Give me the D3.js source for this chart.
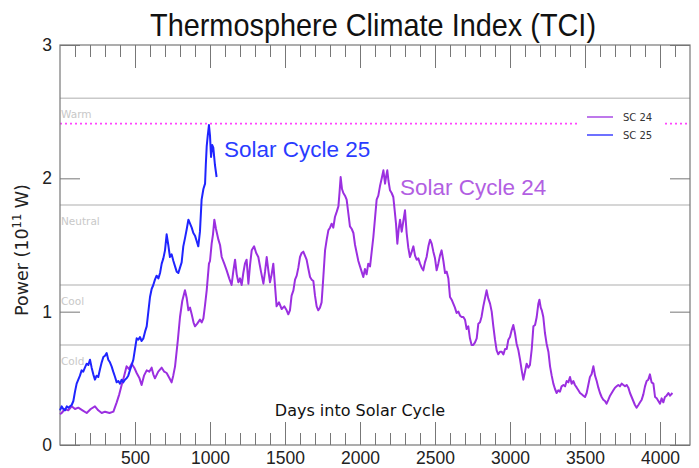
<!DOCTYPE html>
<html><head><meta charset="utf-8">
<script src="https://cdn.jsdelivr.net/npm/d3@7"></script>
<style>body{margin:0;background:#fff}svg{display:block}</style>
</head><body><svg id="c" width="699" height="468"></svg>
<script>
const sc24Days = [0,11,33,55,78,100,122,150,178,205,233,255,278,300,330,356,378,395,411,428,444,460,478,495,511,530,544,560,578,595,611,622,633,655,678,695,711,730,744,755,767,785,800,815,833,845,856,867,878,890,900,915,933,945,956,967,978,993,1000,1011,1020,1029,1040,1056,1067,1078,1095,1111,1128,1144,1155,1167,1178,1189,1200,1211,1222,1233,1244,1256,1267,1278,1294,1308,1322,1340,1356,1367,1378,1390,1400,1411,1422,1433,1444,1460,1478,1495,1511,1522,1533,1544,1556,1567,1578,1589,1600,1611,1622,1633,1644,1656,1667,1678,1689,1700,1711,1722,1733,1744,1755,1767,1778,1789,1800,1811,1822,1833,1845,1856,1864,1871,1880,1889,1900,1911,1922,1933,1945,1956,1967,1978,1989,2000,2011,2022,2033,2044,2055,2067,2078,2089,2100,2111,2122,2133,2145,2156,2167,2175,2182,2190,2200,2211,2222,2232,2240,2249,2258,2267,2278,2289,2300,2311,2322,2333,2345,2356,2367,2378,2389,2400,2411,2422,2433,2444,2456,2467,2478,2489,2500,2511,2522,2533,2544,2556,2567,2578,2589,2600,2611,2622,2633,2644,2656,2667,2678,2689,2700,2711,2722,2733,2744,2755,2767,2778,2789,2800,2810,2822,2833,2844,2855,2867,2878,2889,2900,2911,2922,2933,2944,2956,2967,2978,2989,3000,3011,3022,3033,3044,3056,3067,3078,3089,3100,3111,3122,3133,3145,3156,3167,3178,3189,3196,3205,3212,3222,3233,3244,3256,3267,3278,3289,3300,3311,3322,3333,3344,3356,3367,3378,3389,3400,3411,3422,3433,3445,3456,3467,3478,3489,3500,3511,3522,3533,3544,3556,3567,3578,3589,3600,3611,3622,3633,3644,3656,3667,3678,3689,3700,3711,3722,3733,3744,3756,3767,3778,3789,3800,3811,3822,3833,3844,3856,3867,3878,3889,3900,3911,3922,3933,3944,3956,3967,3978,3989,4000,4011,4022,4033,4044,4056,4067,4083];
const sc24Power = [0.23,0.24,0.27,0.26,0.29,0.27,0.28,0.26,0.24,0.27,0.29,0.26,0.24,0.25,0.24,0.25,0.32,0.38,0.45,0.52,0.59,0.57,0.61,0.58,0.54,0.50,0.45,0.52,0.56,0.55,0.58,0.53,0.50,0.55,0.58,0.55,0.54,0.50,0.47,0.52,0.59,0.78,0.96,1.08,1.16,1.10,1.01,1.03,0.98,0.92,0.89,0.91,0.94,0.92,0.95,1.05,1.16,1.36,1.38,1.51,1.58,1.69,1.62,1.54,1.50,1.41,1.36,1.31,1.25,1.20,1.30,1.39,1.28,1.22,1.25,1.20,1.29,1.36,1.39,1.21,1.35,1.46,1.49,1.44,1.41,1.30,1.21,1.30,1.41,1.30,1.22,1.28,1.36,1.20,1.04,1.07,1.02,1.04,1.01,0.98,1.01,1.12,1.16,1.24,1.27,1.33,1.41,1.44,1.45,1.42,1.39,1.32,1.26,1.24,1.23,1.12,1.04,1.01,1.03,1.07,1.25,1.46,1.54,1.61,1.63,1.66,1.63,1.71,1.75,1.79,1.90,2.01,1.92,1.89,1.87,1.84,1.74,1.64,1.62,1.59,1.50,1.44,1.38,1.34,1.30,1.26,1.32,1.28,1.36,1.34,1.45,1.56,1.70,1.84,1.87,1.94,2.00,2.06,1.96,2.02,2.06,1.98,1.91,1.89,1.86,1.75,1.66,1.51,1.62,1.69,1.60,1.68,1.76,1.59,1.48,1.41,1.45,1.49,1.42,1.39,1.40,1.36,1.33,1.31,1.37,1.41,1.49,1.54,1.51,1.45,1.40,1.31,1.36,1.42,1.46,1.38,1.29,1.30,1.25,1.11,1.09,1.06,1.03,0.99,1.00,0.97,0.96,0.96,0.94,0.87,0.89,0.80,0.75,0.75,0.77,0.80,0.91,0.92,0.96,1.04,1.10,1.16,1.10,1.06,1.00,0.89,0.79,0.71,0.68,0.70,0.70,0.68,0.72,0.72,0.79,0.81,0.86,0.90,0.84,0.76,0.71,0.64,0.56,0.49,0.55,0.61,0.58,0.60,0.72,0.89,0.90,0.96,1.06,1.09,1.03,1.01,0.96,0.84,0.76,0.70,0.59,0.52,0.46,0.42,0.39,0.41,0.40,0.44,0.45,0.44,0.48,0.47,0.51,0.46,0.48,0.45,0.43,0.41,0.39,0.38,0.37,0.36,0.39,0.45,0.51,0.53,0.59,0.52,0.48,0.43,0.39,0.36,0.34,0.33,0.31,0.34,0.37,0.39,0.41,0.43,0.44,0.45,0.44,0.46,0.45,0.44,0.45,0.43,0.39,0.36,0.33,0.30,0.28,0.30,0.32,0.34,0.38,0.44,0.48,0.49,0.53,0.47,0.46,0.36,0.35,0.33,0.31,0.35,0.32,0.36,0.37,0.39,0.37,0.39];
const sc25Days = [0,11,22,33,45,56,67,78,89,100,111,122,133,144,155,166,178,189,200,211,222,233,244,255,267,278,289,300,311,322,333,344,355,367,378,389,400,411,422,433,444,455,466,478,489,500,511,522,533,544,556,567,578,589,600,611,622,633,644,656,667,678,689,700,711,722,733,744,756,767,778,789,800,811,822,833,845,856,867,878,889,900,911,922,933,944,956,967,972,978,985,993,1000,1007,1015,1022,1033,1044];
const sc25Power = [0.26,0.29,0.27,0.26,0.29,0.28,0.29,0.30,0.33,0.40,0.46,0.49,0.52,0.56,0.55,0.58,0.61,0.60,0.64,0.58,0.53,0.49,0.52,0.51,0.57,0.62,0.66,0.67,0.69,0.64,0.62,0.59,0.55,0.51,0.47,0.48,0.46,0.49,0.47,0.49,0.50,0.52,0.56,0.60,0.64,0.72,0.80,0.79,0.81,0.78,0.80,0.85,0.89,1.00,1.11,1.17,1.20,1.24,1.27,1.25,1.29,1.36,1.40,1.46,1.58,1.50,1.41,1.43,1.38,1.34,1.30,1.29,1.33,1.37,1.49,1.55,1.62,1.69,1.66,1.63,1.59,1.57,1.53,1.49,1.60,1.84,1.92,1.96,2.10,2.24,2.32,2.40,2.32,2.16,2.25,2.23,2.10,2.01];
const thresholdValues = [2.6, 1.8, 1.2, 0.75];
const thresholdLabels = ["Warm", "Neutral", "Cool", "Cold"];
const warmLevel = 2.41;
const xMajorTicks = [500,1000,1500,2000,2500,3000,3500,4000];
const yTicks = [0,1,2,3];
const seriesNames = ["SC 24", "SC 25"];
const annotations = ["Solar Cycle 25", "Solar Cycle 24"];

const svg = d3.select("#c");
const L = 60, R = 690, T = 45, B = 445;
const x = d3.scaleLinear().domain([0, 4200]).range([L, R]);
const y = d3.scaleLinear().domain([0, 3]).range([B, T]);
const C24 = "#9b2fe0", C25 = "#1f24ff";

// threshold lines
svg.selectAll("line.thr").data(thresholdValues).join("line")
  .attr("x1", L).attr("x2", R).attr("y1", d => y(d)).attr("y2", d => y(d))
  .attr("stroke", "#c9c9c9").attr("stroke-width", 1.5);
svg.selectAll("text.thr").data(thresholdValues).join("text")
  .attr("x", L + 1).attr("y", d => y(d) + 20)
  .attr("font-family", "DejaVu Sans").attr("font-size", 10.5).attr("fill", "#c8c8c8")
  .text((d, i) => thresholdLabels[i]);

// warm dotted line
svg.append("line").attr("x1", L).attr("x2", R).attr("y1", y(warmLevel)).attr("y2", y(warmLevel))
  .attr("stroke", "#ff44ff").attr("stroke-width", 1.6).attr("stroke-dasharray", "2,3");

// axes with inward ticks
const minor = d3.range(100, 4200, 100).filter(v => v % 500 !== 0);
const axisStyle = g => { g.select(".domain").remove(); g.selectAll(".tick line").attr("stroke", "#777"); };
svg.append("g").attr("transform", `translate(0,${B})`)
  .call(d3.axisBottom(x).tickValues(minor).tickSize(-12).tickFormat(""))
  .call(axisStyle);
svg.append("g").attr("transform", `translate(0,${B})`)
  .call(d3.axisBottom(x).tickValues(xMajorTicks).tickSize(-23).tickPadding(7).tickFormat(d3.format("d")))
  .call(axisStyle)
  .call(g => g.selectAll("text").attr("font-family", "Liberation Sans").attr("font-size", 17.5).attr("fill", "#222"));
svg.append("g").attr("transform", `translate(0,${T})`)
  .call(d3.axisTop(x).tickValues(minor).tickSize(-12).tickFormat(""))
  .call(axisStyle);
svg.append("g").attr("transform", `translate(0,${T})`)
  .call(d3.axisTop(x).tickValues(xMajorTicks).tickSize(-23).tickFormat(""))
  .call(axisStyle);
svg.append("g").attr("transform", `translate(${L},0)`)
  .call(d3.axisLeft(y).tickValues(yTicks).tickSize(-20).tickPadding(8).tickFormat(d3.format("d")))
  .call(axisStyle)
  .call(g => g.selectAll("text").attr("font-family", "Liberation Sans").attr("font-size", 17.5).attr("fill", "#222"));
svg.append("g").attr("transform", `translate(${R},0)`)
  .call(d3.axisRight(y).tickValues(yTicks).tickSize(-20).tickFormat(""))
  .call(axisStyle);

// frame
svg.append("rect").attr("x", L).attr("y", T).attr("width", R - L).attr("height", B - T)
  .attr("fill", "none").attr("stroke", "#777").attr("stroke-width", 1.2);

// lines
const line = d3.line().x(d => x(d[0])).y(d => y(d[1])).curve(d3.curveLinear);
svg.append("path").datum(sc24Days.map((d, i) => [d, sc24Power[i]]))
  .attr("d", line).attr("fill", "none").attr("stroke", C24).attr("stroke-width", 2).attr("stroke-linejoin", "round");
svg.append("path").datum(sc25Days.map((d, i) => [d, sc25Power[i]]))
  .attr("d", line).attr("fill", "none").attr("stroke", C25).attr("stroke-width", 2).attr("stroke-linejoin", "round");

// legend
const lg = svg.append("g");
lg.append("rect").attr("x", 580).attr("y", 104).attr("width", 84).attr("height", 41).attr("fill", "#fff");
[C24, C25].forEach((c, i) => {
  lg.append("line").attr("x1", 587).attr("x2", 613).attr("y1", 117 + i * 18).attr("y2", 117 + i * 18)
    .attr("stroke", c).attr("stroke-width", 1.3);
  lg.append("text").attr("x", 623).attr("y", 121 + i * 18).attr("font-family", "DejaVu Sans")
    .attr("font-size", 10).attr("fill", "#333").text(seriesNames[i]);
});

// annotations
svg.append("text").attr("x", 224).attr("y", 157).attr("font-family", "Liberation Sans").attr("font-size", 22.5)
  .attr("fill", "#2a3cff").text(annotations[0]);
svg.append("text").attr("x", 400).attr("y", 195).attr("font-family", "Liberation Sans").attr("font-size", 22.5)
  .attr("fill", "#b25fe2").text(annotations[1]);

// title
svg.append("text").attr("x", 373).attr("y", 36).attr("text-anchor", "middle")
  .attr("font-family", "Liberation Sans").attr("font-size", 32).attr("fill", "#111")
  .attr("textLength", 446).attr("lengthAdjust", "spacingAndGlyphs")
  .text("Thermosphere Climate Index (TCI)");

// x label
svg.append("text").attr("x", 360).attr("y", 416).attr("text-anchor", "middle")
  .attr("font-family", "DejaVu Sans").attr("font-size", 16).attr("fill", "#111")
  .text("Days into Solar Cycle");

// y label
const yl = svg.append("text").attr("transform", "translate(28,250) rotate(-90)").attr("text-anchor", "middle")
  .attr("font-family", "DejaVu Sans").attr("font-size", 17.5).attr("fill", "#222");
yl.append("tspan").text("Power (10");
yl.append("tspan").attr("font-size", 11.5).attr("dy", -7).text("11");
yl.append("tspan").attr("dy", 7).text(" W)");
</script></body></html>
